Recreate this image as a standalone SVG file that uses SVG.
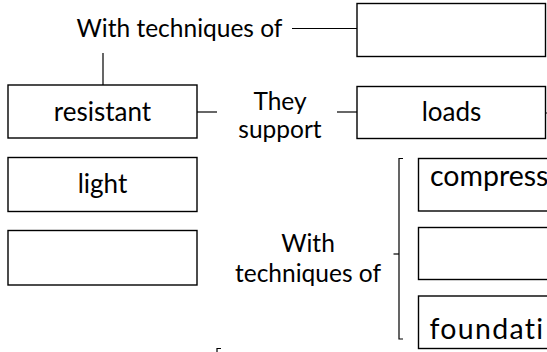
<svg xmlns="http://www.w3.org/2000/svg" width="547" height="352" viewBox="0 0 547 352">
<style>
.box{fill:#fff;stroke:#000;stroke-width:1.4}
.ln{fill:none;stroke:#000;stroke-width:1.2}
text{font-family:Lato,"Open Sans","Liberation Sans",sans-serif;font-size:24.5px;fill:#000}
.c{text-anchor:middle}
.b{font-size:26px}
.r{font-size:28.5px}
</style>
<rect width="547" height="352" fill="#fff"/>
<g id="connectors">
<line class="ln" x1="292" y1="28.5" x2="357" y2="28.5"/>
<line class="ln" x1="103" y1="53" x2="103" y2="85"/>
<line class="ln" x1="197" y1="112" x2="217" y2="112"/>
<line class="ln" x1="337" y1="112" x2="357" y2="112"/>
<line class="ln" x1="545.5" y1="113" x2="547" y2="113"/>
<path class="ln" d="M403,158.5 H399 V339 H403"/>
<line class="ln" x1="393.5" y1="254" x2="399" y2="254"/>
<path class="ln" d="M221,348.5 H217 V352"/>
</g>
<g id="label-top"><text class="c" x="179.5" y="37">With techniques of</text></g>
<g id="box-top"><rect class="box" x="357" y="3.5" width="188.5" height="53"/></g>
<g id="resistant"><rect class="box" x="8" y="85" width="189" height="53"/><text class="c b" x="102.5" y="120.5">resistant</text></g>
<g id="label-support"><text class="c" x="280" y="110">They</text><text class="c" x="280" y="138">support</text></g>
<g id="loads"><rect class="box" x="357" y="86.5" width="188.5" height="52"/><text class="c b" x="451.5" y="121">loads</text></g>
<g id="light"><rect class="box" x="8" y="157.5" width="189" height="54"/><text class="c b" x="102.5" y="193">light</text></g>
<g id="box-empty-left"><rect class="box" x="8" y="230.5" width="189" height="54.5"/></g>
<g id="label-with"><text class="c" x="308" y="252">With</text><text class="c" x="308" y="282">techniques of</text></g>
<g id="compress"><rect class="box" x="418.5" y="158.5" width="200" height="52.5"/><text class="r" x="430" y="186">compress</text></g>
<g id="box-empty-right"><rect class="box" x="418.5" y="227.5" width="200" height="52"/></g>
<g id="foundation"><rect class="box" x="418.5" y="296" width="200" height="52.5"/><text class="r" x="429.5" y="339" letter-spacing="1.3">foundati</text></g>
</svg>
